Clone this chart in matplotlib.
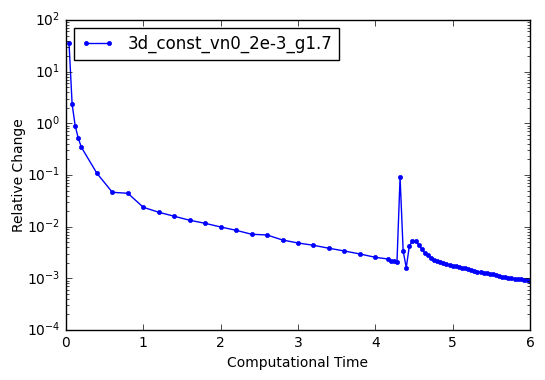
import matplotlib
matplotlib.use('Agg')
import matplotlib.pyplot as plt

plt.style.use('classic')

label = '3d_const_vn0_2e-3_g1.7'

times = [0.04, 0.08, 0.12, 0.16, 0.2, 0.4, 0.6, 0.8, 1.0, 1.2, 1.4, 1.6, 1.8,
         2.0, 2.2, 2.4, 2.6, 2.8, 3.0, 3.2, 3.4, 3.6, 3.8, 4.0, 4.16, 4.2,
         4.24, 4.28, 4.32, 4.36, 4.40, 4.44, 4.48, 4.52, 4.56, 4.60, 4.64,
         4.68, 4.72, 4.76, 4.80, 4.84, 4.88, 4.92, 4.96, 5.00, 5.04, 5.08,
         5.12, 5.16, 5.20, 5.24, 5.28, 5.32, 5.36, 5.40, 5.44, 5.48, 5.52,
         5.56, 5.60, 5.64, 5.68, 5.72, 5.76, 5.80, 5.84, 5.88, 5.92, 5.96,
         6.00]

rel_change = [35.4, 2.33, 0.89, 0.51, 0.343, 0.108, 0.0462, 0.0443, 0.0237,
              0.019, 0.0159, 0.0133, 0.0116, 0.00986, 0.0085, 0.00713, 0.0069,
              0.00552, 0.00483, 0.00436, 0.00382, 0.00338, 0.00296, 0.00255,
              0.00237, 0.00217, 0.00212, 0.0021, 0.0904, 0.00338, 0.00161,
              0.00423, 0.00528, 0.0052, 0.0045, 0.0037, 0.0031, 0.0028,
              0.0025, 0.0023, 0.0022, 0.0021, 0.0020, 0.0019, 0.0018, 0.00175,
              0.0017, 0.00165, 0.0016, 0.00155, 0.0015, 0.00145, 0.0014,
              0.00135, 0.0013, 0.00128, 0.00125, 0.00122, 0.0012, 0.00115,
              0.0011, 0.00108, 0.00105, 0.00102, 0.001, 0.00099, 0.00097,
              0.00095, 0.00093, 0.00091, 0.00088]

fig = plt.figure(figsize=(5.45, 3.8), dpi=100)
ax = fig.add_axes([0.121, 0.1316, 0.8515, 0.8158])

ax.semilogy(times, rel_change, 'b.-', label=label)
ax.set_xlim(0, 6)
ax.set_ylim(1e-4, 1e2)
ax.set_xlabel('Computational Time', fontsize=10)
ax.set_ylabel('Relative Change', fontsize=10, labelpad=1)
ax.tick_params(labelsize=10)
ax.legend(loc='upper left', fontsize=12)

fig.savefig('out.png', dpi=100)
